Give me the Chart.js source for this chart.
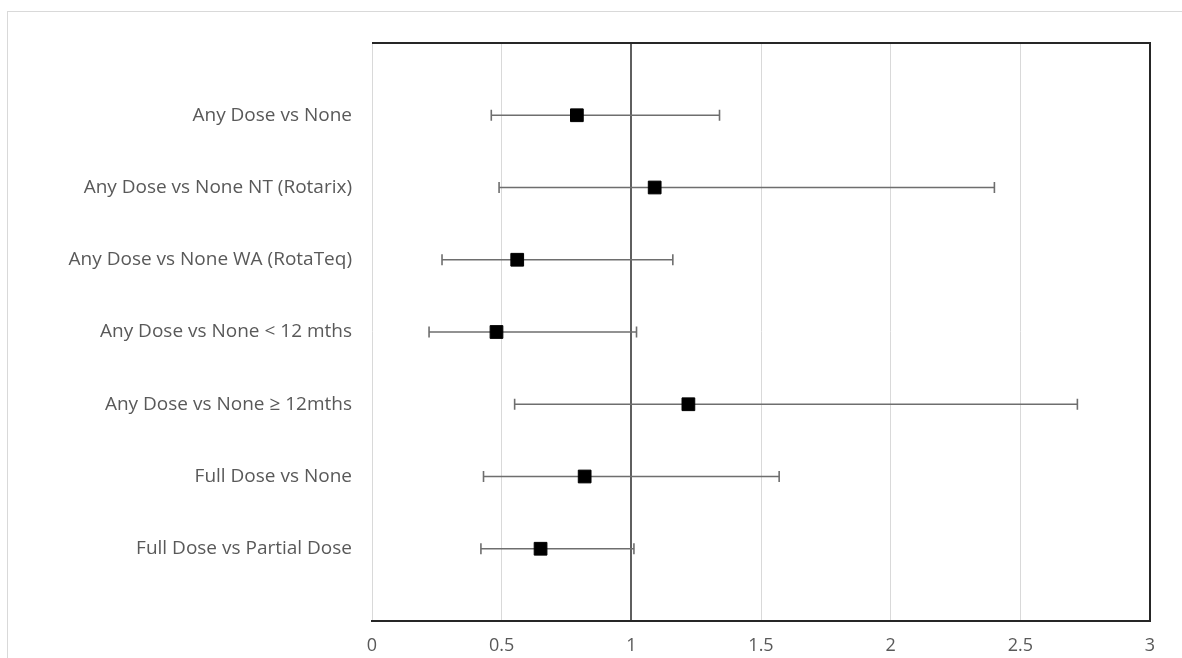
<!DOCTYPE html>
<html>
<head>
<meta charset="utf-8">
<script src="https://cdn.jsdelivr.net/npm/chart.js@4.4.0/dist/chart.umd.min.js"></script>
<style>
    html, body { margin: 0; padding: 0; background: #fff; overflow: hidden; }
    .frame {
        position: absolute; left: 7px; top: 11px; width: 1200px; height: 700px;
        border-top: 1px solid #d9d9d9; border-left: 1px solid #d9d9d9;
    }
    .wrap { position: absolute; left: 0; top: 0; width: 1182px; height: 658px; }
</style>
</head>
<body>
<div class="frame"></div>
<div class="wrap"><canvas id="forestChart"></canvas></div>
<script>
// Karşılaştırmalar (yukarıdan aşağıya)
const categories = [
    'Any Dose vs None',
    'Any Dose vs None NT (Rotarix)',
    'Any Dose vs None WA (RotaTeq)',
    'Any Dose vs None < 12 mths',
    'Any Dose vs None ≥ 12mths',
    'Full Dose vs None',
    'Full Dose vs Partial Dose'
];
const oddsRatio = [0.79, 1.09, 0.56, 0.48, 1.22, 0.82, 0.65];
const lowerCI   = [0.46, 0.49, 0.27, 0.22, 0.55, 0.43, 0.42];
const upperCI   = [1.34, 2.40, 1.16, 1.02, 2.72, 1.57, 1.01];
const xTicks    = [0, 0.5, 1, 1.5, 2, 2.5, 3];

document.addEventListener('DOMContentLoaded', function() {
    const labelFont = { family: "'Open Sans', sans-serif", size: 19 };
    const tickFont = { family: "'Open Sans', sans-serif", size: 18 };

    // Güven aralığı çizgileri
    const ciSets = categories.map((name, i) => ({
        label: name + ' CI',
        data: [{ x: lowerCI[i], y: i + 1 }, { x: upperCI[i], y: i + 1 }],
        showLine: true,
        borderColor: '#6e6e6e',
        borderWidth: 1.6,
        pointStyle: 'line',
        rotation: 90,
        pointRadius: 5.5,
        pointBorderColor: '#6e6e6e',
        pointBorderWidth: 1.6
    }));

    const pointSet = {
        label: 'OR',
        data: oddsRatio.map((v, i) => ({ x: v, y: i + 1 })),
        pointStyle: 'rect',
        pointRadius: 9,
        backgroundColor: '#000',
        borderColor: '#000',
        borderWidth: 1
    };

    // Çizim alanının üst ve sağ kenarı
    const plotFrame = {
        id: 'plotFrame',
        afterDraw(chart) {
            const a = chart.chartArea;
            const c = chart.ctx;
            c.save();
            c.strokeStyle = '#262626';
            c.lineWidth = 2;
            c.beginPath();
            c.moveTo(a.left, a.top);
            c.lineTo(a.right, a.top);
            c.lineTo(a.right, a.bottom);
            c.stroke();
            c.restore();
        }
    };

    new Chart(document.getElementById('forestChart'), {
        type: 'scatter',
        data: { datasets: [pointSet, ...ciSets] },
        options: {
            responsive: true,
            maintainAspectRatio: false,
            animation: false,
            layout: { padding: { left: 0, right: 32, top: 43, bottom: 0 } },
            plugins: {
                legend: { display: false },
                tooltip: { enabled: false }
            },
            scales: {
                x: {
                    type: 'linear',
                    min: 0,
                    max: 3,
                    afterBuildTicks: scale => { scale.ticks = xTicks.map(v => ({ value: v })); },
                    afterFit: scale => { scale.height = 37; },
                    grid: {
                        color: ctx => ctx.tick && ctx.tick.value === 1 ? '#5f5f5f' : '#d9d9d9',
                        lineWidth: ctx => ctx.tick && ctx.tick.value === 1 ? 2 : 1,
                        drawTicks: false
                    },
                    border: { display: true, color: '#262626', width: 2 },
                    ticks: {
                        color: '#595959',
                        font: tickFont,
                        padding: 14,
                        maxRotation: 0,
                        callback: v => String(v)
                    }
                },
                y: {
                    type: 'linear',
                    min: 0,
                    max: 8,
                    reverse: true,
                    afterFit: scale => { scale.width = 372; },
                    grid: { display: false, drawTicks: false },
                    border: { display: false },
                    ticks: {
                        stepSize: 1,
                        color: '#595959',
                        font: labelFont,
                        padding: 20,
                        autoSkip: false,
                        callback: v => categories[v - 1] || ''
                    }
                }
            }
        },
        plugins: [plotFrame]
    });
});
</script>
</body>
</html>
